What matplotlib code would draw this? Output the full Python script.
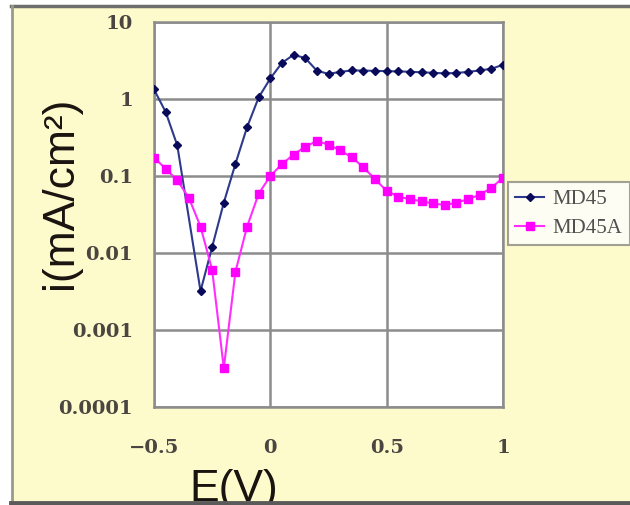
import matplotlib.pyplot as plt
from matplotlib.lines import Line2D
from matplotlib.patches import Rectangle

# 讀圖估計的數據
e_md45 = [-0.5, -0.45, -0.4, -0.3, -0.25, -0.2, -0.15, -0.1, -0.05, 0.0,
          0.05, 0.1, 0.15, 0.2, 0.25, 0.3, 0.35, 0.4, 0.45, 0.5,
          0.55, 0.6, 0.65, 0.7, 0.75, 0.8, 0.85, 0.9, 0.95, 1.0]
i_md45 = [1.33, 0.68, 0.25, 0.0032, 0.012, 0.045, 0.144, 0.43, 1.05, 1.85,
          2.95, 3.75, 3.4, 2.33, 2.12, 2.25, 2.35, 2.34, 2.32, 2.3,
          2.28, 2.26, 2.22, 2.19, 2.15, 2.18, 2.25, 2.35, 2.47, 2.78]

e_md45a = [-0.5, -0.45, -0.4, -0.35, -0.3, -0.25, -0.2, -0.15, -0.1, -0.05,
           0.0, 0.05, 0.1, 0.15, 0.2, 0.25, 0.3, 0.35, 0.4, 0.45,
           0.5, 0.55, 0.6, 0.65, 0.7, 0.75, 0.8, 0.85, 0.9, 0.95, 1.0]
i_md45a = [0.172, 0.125, 0.088, 0.052, 0.022, 0.006, 0.00032, 0.0057, 0.022, 0.059,
           0.1, 0.143, 0.19, 0.24, 0.285, 0.255, 0.215, 0.175, 0.13, 0.091,
           0.064, 0.054, 0.05, 0.047, 0.044, 0.042, 0.045, 0.05, 0.057, 0.07, 0.095]

x_ticks = [-0.5, 0, 0.5, 1]
x_labels = ["−0.5", "0", "0.5", "1"]
y_ticks = [0.0001, 0.001, 0.01, 0.1, 1, 10]
y_labels = ["0.0001", "0.001", "0.01", "0.1", "1", "10"]

W, H = 630, 505
bg = '#FDFACB'
grid_c = '#8C8C8C'
tick_c = '#4A4540'

fig = plt.figure(figsize=(W / 100, H / 100), dpi=100, facecolor=bg)
ax = fig.add_axes([154 / W, 1 - 407 / H, (503 - 154) / W, (407 - 22) / H])
ax.set_facecolor('white')

ax.plot(e_md45, i_md45, color='#2E3A8C', lw=1.5, marker='D', ms=4.5,
        mfc='#0A0A5A', mec='#0A0A5A', label='MD45', zorder=3)
ax.plot(e_md45a, i_md45a, color='#FF2EFF', lw=1.5, marker='s', ms=5.5,
        mfc='#FF00FF', mec='#FF00FF', label='MD45A', zorder=3)

ax.set_yscale('log')
ax.set_xlim(-0.5, 1.0)
ax.set_ylim(0.0001, 10)
ax.minorticks_off()

ax.set_xticks(x_ticks)
ax.set_xticklabels(x_labels)
ax.set_yticks(y_ticks)
ax.set_yticklabels(y_labels)
ax.tick_params(length=0, colors=tick_c)
ax.tick_params(axis='y', pad=15)
ax.tick_params(axis='x', pad=23)
for lab in ax.get_xticklabels() + ax.get_yticklabels():
    lab.set_family('DejaVu Serif')
    lab.set_fontweight('bold')
    lab.set_fontsize(14)

ax.grid(True, color=grid_c, lw=1.8)
for s in ax.spines.values():
    s.set_color(grid_c)
    s.set_linewidth(1.8)

# 軸標題
fig.text(61 / W, 1 - 193 / H, "i(mA/cm²)", rotation=90, ha='center', va='center',
         family='Liberation Sans', fontsize=32, color='#1A1410')
fig.text(234 / W, 1 - 501 / H, "E(V)", ha='center', va='baseline',
         family='Liberation Sans', fontsize=32, color='#1A1410')

# 圖例
leg = fig.legend(loc='upper left', bbox_to_anchor=(508 / W, 1 - 182 / H),
                 prop={'family': 'Liberation Serif', 'size': 15},
                 frameon=True, fancybox=False, handlelength=1.4,
                 handletextpad=0.4, borderpad=0.35, labelspacing=0.45,
                 borderaxespad=0)
leg.get_frame().set_edgecolor('#8A8A80')
leg.get_frame().set_linewidth(1.5)
for t in leg.get_texts():
    t.set_color('#505050')

# 外框
fig.add_artist(Rectangle((0, 0), 11 / W, 1, transform=fig.transFigure,
                         color='white', zorder=10))
fig.add_artist(Rectangle((0, 1 - 5 / H), 1, 5 / H, transform=fig.transFigure,
                         color='white', zorder=10))
fig.add_artist(Line2D([11 / W, 1], [1 - 6 / H, 1 - 6 / H], transform=fig.transFigure,
                      color='#6E6E6E', lw=2.5, zorder=11))
fig.add_artist(Line2D([12 / W, 12 / W], [0, 1 - 6 / H], transform=fig.transFigure,
                      color='#9A9A8A', lw=2, zorder=11))
fig.add_artist(Line2D([11 / W, 1], [2.5 / H, 2.5 / H], transform=fig.transFigure,
                      color='#5A5A5A', lw=3.5, zorder=11))

fig.savefig('out.png', dpi=100, facecolor=bg)
